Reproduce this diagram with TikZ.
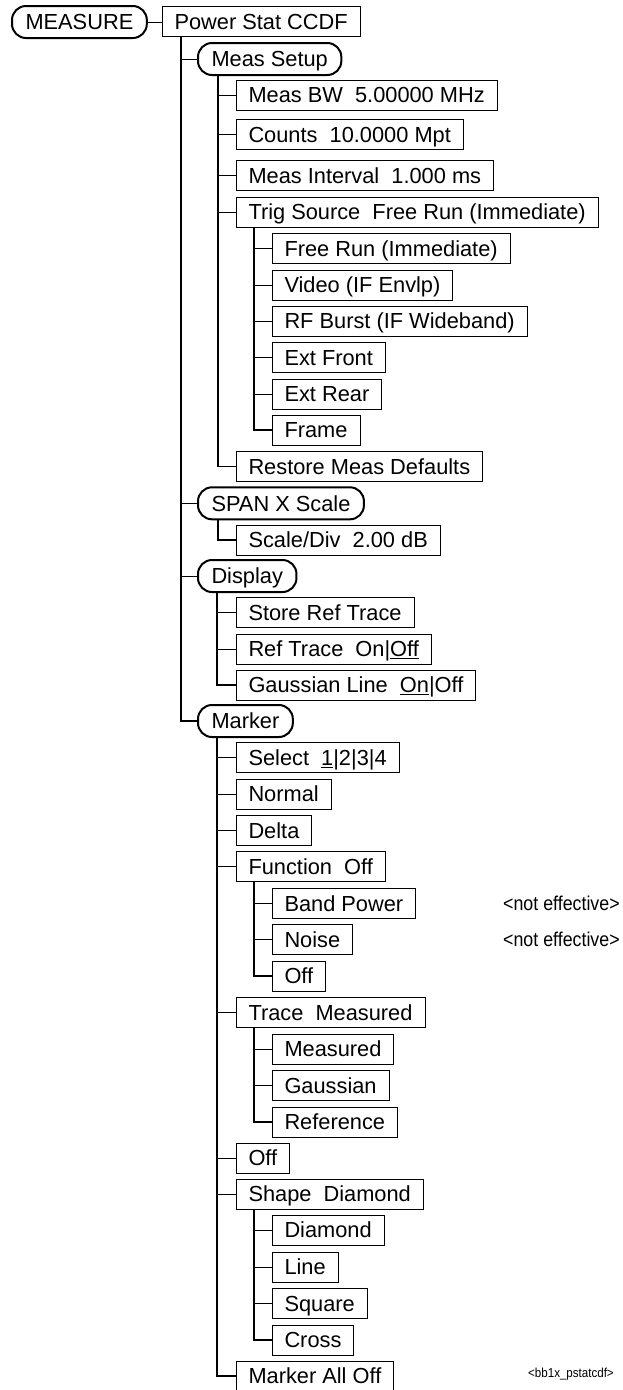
\documentclass[tikz,border=0pt]{standalone}
\usepackage{fontspec}
\setmainfont{Liberation Sans}
\newfontfamily\narrowfont[FakeStretch=0.89]{Liberation Sans}
\begin{document}
\begin{tikzpicture}[x=1pt,y=-1pt,
  box/.style={draw,line width=0.9pt,anchor=west,minimum height=30pt,inner xsep=12.5pt,inner ysep=0pt,outer sep=0pt,text height=18.4pt,text depth=3pt,font=\fontsize{21.8}{24}\selectfont},
  pill/.style={box,line width=2pt,rounded corners=14pt,minimum height=32pt,inner xsep=13.5pt},
  link/.style={line width=1pt},
  trunk/.style={line width=1.3pt},
  note/.style={anchor=west,inner sep=0pt,font=\narrowfont\fontsize{20}{24}\selectfont},
  tag/.style={anchor=west,inner sep=0pt,font=\narrowfont\fontsize{13}{15}\selectfont}]
\useasboundingbox (0,0) rectangle (623,1390);
% nodes
\node[pill] (m)  at (12,22) {MEASURE};
\node[box]  (ps) at (162,21.5) {Power Stat CCDF};
\node[pill] (ms) at (198,59) {Meas Setup};
\node[box]  (bw) at (236,95) {Meas BW~~5.00000 MHz};
\node[box]  (cn) at (236,134.3) {Counts~~10.0000 Mpt};
\node[box]  (mi) at (236,175.7) {Meas Interval~~1.000 ms};
\node[box]  (ts) at (236,212) {Trig Source~~Free Run (Immediate)};
\node[box]  (fr) at (272,248.3) {Free Run (Immediate)};
\node[box]  (vd) at (272,285) {Video (IF Envlp)};
\node[box]  (rf) at (272,321) {RF Burst (IF Wideband)};
\node[box]  (ef) at (272,357.7) {Ext Front};
\node[box]  (er) at (272,394) {Ext Rear};
\node[box]  (fm) at (272,430) {Frame};
\node[box]  (rd) at (236,466.7) {Restore Meas Defaults};
\node[pill] (sp) at (198,503.3) {SPAN X Scale};
\node[box]  (sd) at (236,540) {Scale/Div~~2.00 dB};
\node[pill] (dp) at (198,576) {Display};
\node[box]  (sr) at (236,612.3) {Store Ref Trace};
\node[box]  (rt) at (236,649) {Ref Trace~~On|\underline{Off}};
\node[box]  (gl) at (236,685) {Gaussian Line~~\underline{On}|Off};
\node[pill] (mk) at (198,721) {Marker};
\node[box]  (se) at (236,757.7) {Select~~\underline{1}|2|3|4};
\node[box]  (no) at (236,794) {Normal};
\node[box]  (de) at (236,830.3) {Delta};
\node[box]  (fo) at (236,866.7) {Function~~Off};
\node[box]  (bp) at (272,903.3) {Band Power};
\node[box]  (ns) at (272,939.5) {Noise};
\node[box]  (o1) at (272,976) {Off};
\node[box]  (tm) at (236,1012.7) {Trace~~Measured};
\node[box]  (me) at (272,1049) {Measured};
\node[box]  (ga) at (272,1085.5) {Gaussian};
\node[box]  (re) at (272,1122) {Reference};
\node[box]  (o2) at (236,1158) {Off};
\node[box]  (sh) at (236,1194) {Shape~~Diamond};
\node[box]  (di) at (272,1230) {Diamond};
\node[box]  (li) at (272,1267) {Line};
\node[box]  (sq) at (272,1303.7) {Square};
\node[box]  (cr) at (272,1340) {Cross};
\node[box]  (ma) at (236,1376) {Marker All Off};
\node[note] (n1) at (503,903.3) {<not effective>};
\node[note] (n2) at (503,939.5) {<not effective>};
\node[tag]  (tg) at (528,1374) {<bb1x\_pstatcdf>};
% connectors
\draw[link] (m.east) -- (m.east -| ps.west);
\coordinate (t0) at ([xshift=19pt]ps.south west);
\draw[trunk] (t0) |- (mk.west);
\foreach \n in {ms,sp,dp} \draw[link] (t0 |- \n.west) -- (\n.west);
\coordinate (t1) at ([xshift=20pt]ms.south west);
\draw[trunk] (t1) |- (rd.west);
\foreach \n in {bw,cn,mi,ts} \draw[link] (t1 |- \n.west) -- (\n.west);
\coordinate (t2) at ([xshift=18pt]ts.south west);
\draw[trunk] (t2) |- (fm.west);
\foreach \n in {fr,vd,rf,ef,er} \draw[link] (t2 |- \n.west) -- (\n.west);
\coordinate (t3) at ([xshift=20pt]sp.south west);
\draw[trunk] (t3) |- (sd.west);
\coordinate (t4) at ([xshift=19pt]dp.south west);
\draw[trunk] (t4) |- (gl.west);
\foreach \n in {sr,rt} \draw[link] (t4 |- \n.west) -- (\n.west);
\coordinate (t5) at ([xshift=19pt]mk.south west);
\draw[trunk] (t5) |- (ma.west);
\foreach \n in {se,no,de,fo,tm,o2,sh} \draw[link] (t5 |- \n.west) -- (\n.west);
\coordinate (t6) at ([xshift=18pt]fo.south west);
\draw[trunk] (t6) |- (o1.west);
\foreach \n in {bp,ns} \draw[link] (t6 |- \n.west) -- (\n.west);
\coordinate (t7) at ([xshift=18pt]tm.south west);
\draw[trunk] (t7) |- (re.west);
\foreach \n in {me,ga} \draw[link] (t7 |- \n.west) -- (\n.west);
\coordinate (t8) at ([xshift=18pt]sh.south west);
\draw[trunk] (t8) |- (cr.west);
\foreach \n in {di,li,sq} \draw[link] (t8 |- \n.west) -- (\n.west);
\end{tikzpicture}
\end{document}
